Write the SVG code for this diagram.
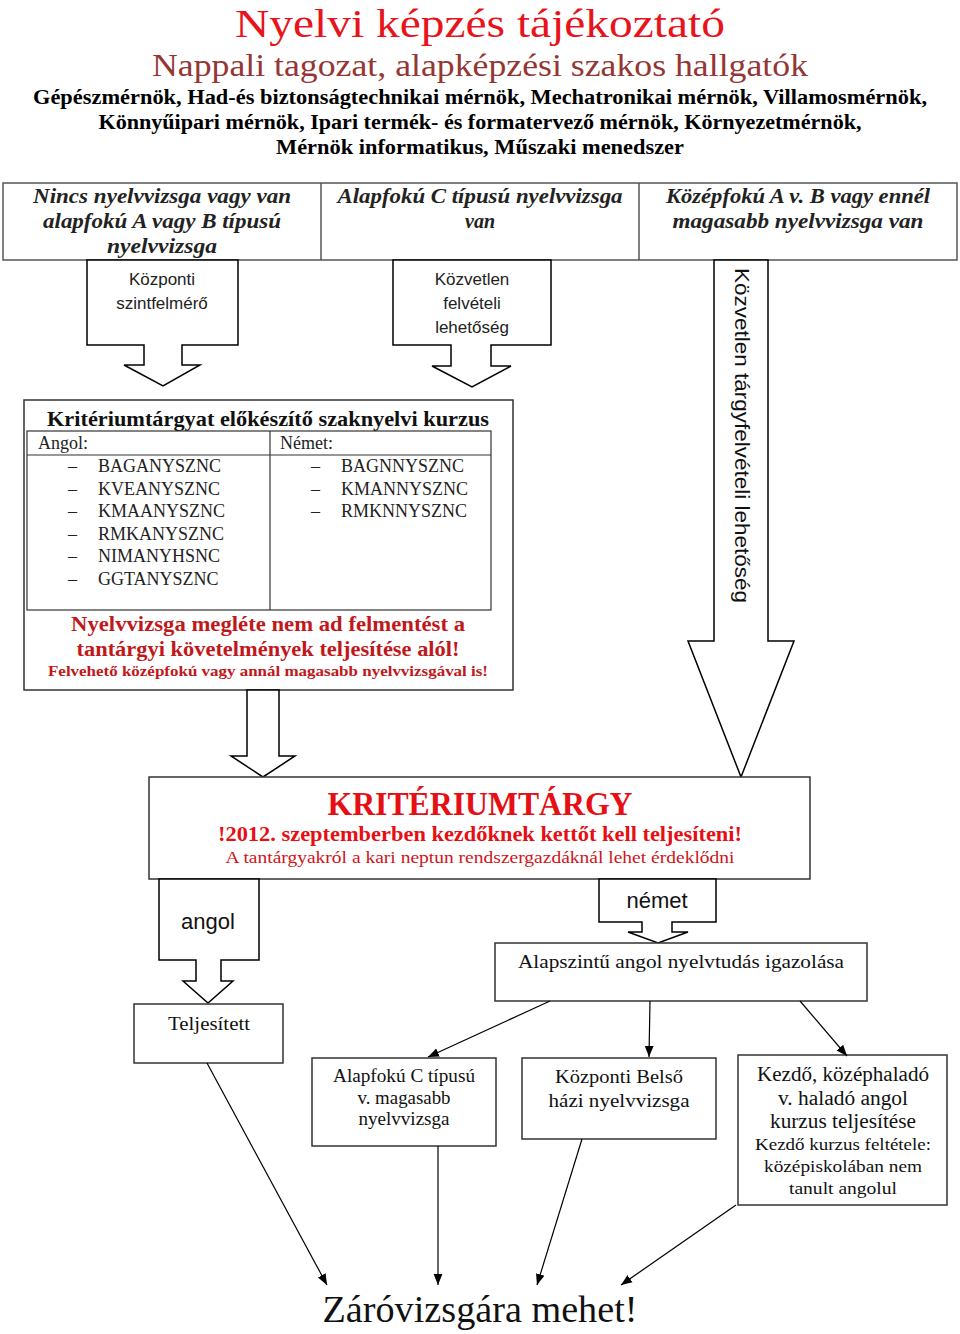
<svg xmlns="http://www.w3.org/2000/svg" width="960" height="1334" viewBox="0 0 960 1334">
<style>
.serif{font-family:"Liberation Serif","DejaVu Serif",serif;}
.sans{font-family:"Liberation Sans","Noto Sans",sans-serif;}
.box{fill:#fff;stroke:#333;stroke-width:1.5;}
.gbox{fill:#fff;stroke:#555;stroke-width:1.5;}
.blk{fill:#fff;stroke:#000;stroke-width:1.5;}
.con{stroke:#000;stroke-width:1.2;fill:none;marker-end:url(#ah);}
.c{text-anchor:middle;}
.top{font-style:italic;font-weight:bold;font-size:20px;fill:#222;}
.lst{font-size:18px;fill:#222;}
.bt{fill:#111;}
</style>
<defs>
<marker id="ah" viewBox="0 0 10 10" refX="10" refY="5" markerWidth="11" markerHeight="11" markerUnits="userSpaceOnUse" orient="auto"><path d="M0,1 L10,5 L0,9 Z" fill="#000"/></marker>
</defs>
<rect width="960" height="1334" fill="#fff"/>

<g id="header">
<text class="serif c" x="480" y="37" font-size="40" fill="#e8141b" textLength="490" lengthAdjust="spacingAndGlyphs">Nyelvi képzés tájékoztató</text>
<text class="serif c" x="480" y="76" font-size="32" fill="#943634" textLength="656" lengthAdjust="spacingAndGlyphs">Nappali tagozat, alapképzési szakos hallgatók</text>
<text class="serif c" x="480" y="104" font-size="20" font-weight="bold" fill="#000" textLength="894" lengthAdjust="spacingAndGlyphs">Gépészmérnök, Had-és biztonságtechnikai mérnök, Mechatronikai mérnök, Villamosmérnök,</text>
<text class="serif c" x="480" y="129" font-size="20" font-weight="bold" fill="#000" textLength="763" lengthAdjust="spacingAndGlyphs">Könnyűipari mérnök, Ipari termék- és formatervező mérnök, Környezetmérnök,</text>
<text class="serif c" x="480" y="154" font-size="20" font-weight="bold" fill="#000" textLength="408" lengthAdjust="spacingAndGlyphs">Mérnök informatikus, Műszaki menedszer</text>
</g>

<g id="toprow">
<rect class="gbox" x="3" y="183" width="954" height="77"/>
<line x1="321" y1="183" x2="321" y2="260" stroke="#555" stroke-width="1.5"/>
<line x1="639" y1="183" x2="639" y2="260" stroke="#555" stroke-width="1.5"/>
<text class="serif c top" x="162" y="203" textLength="258" lengthAdjust="spacingAndGlyphs">Nincs nyelvvizsga vagy van</text>
<text class="serif c top" x="162" y="228" textLength="238" lengthAdjust="spacingAndGlyphs">alapfokú A vagy B típusú</text>
<text class="serif c top" x="162" y="253" textLength="110" lengthAdjust="spacingAndGlyphs">nyelvvizsga</text>
<text class="serif c top" x="480" y="203" textLength="285" lengthAdjust="spacingAndGlyphs">Alapfokú C típusú nyelvvizsga</text>
<text class="serif c top" x="480" y="228">van</text>
<text class="serif c top" x="798" y="203" textLength="264" lengthAdjust="spacingAndGlyphs">Középfokú A v. B vagy ennél</text>
<text class="serif c top" x="798" y="228" textLength="251" lengthAdjust="spacingAndGlyphs">magasabb nyelvvizsga van</text>
</g>

<g id="szintfelmero">
<path class="blk" d="M87,260 H238 V345 H182 V365 H200 L163,386 L124,365 H144 V345 H87 Z"/>
<text class="sans c" x="162" y="285" font-size="17" fill="#222">Központi</text>
<text class="sans c" x="162" y="309" font-size="17" fill="#222">szintfelmérő</text>
</g>

<g id="kozvetlen-felveteli">
<path class="blk" d="M393,260 H551 V345 H491 V366 H511 L472,387 L432,366 H451 V345 H393 Z"/>
<text class="sans c" x="472" y="285" font-size="17" fill="#222">Közvetlen</text>
<text class="sans c" x="472" y="309" font-size="17" fill="#222">felvételi</text>
<text class="sans c" x="472" y="333" font-size="17" fill="#222">lehetőség</text>
</g>

<g id="targyfelveteli">
<path class="blk" d="M714,260 H768 V641 H794 L741,777 L688,641 H714 Z"/>
<text class="sans" transform="translate(735,268) rotate(90)" font-size="21" fill="#111" textLength="335" lengthAdjust="spacingAndGlyphs">Közvetlen tárgyfelvételi lehetőség</text>
</g>

<g id="kurzus">
<rect class="box" x="24" y="400" width="489" height="290"/>
<text class="serif c" x="268" y="426" font-size="21" font-weight="bold" fill="#111" textLength="442" lengthAdjust="spacingAndGlyphs">Kritériumtárgyat előkészítő szaknyelvi kurzus</text>
<rect x="27" y="431" width="464" height="179" fill="none" stroke="#333" stroke-width="1.2"/>
<line x1="27" y1="455" x2="491" y2="455" stroke="#333" stroke-width="1.2"/>
<line x1="270" y1="431" x2="270" y2="610" stroke="#333" stroke-width="1.2"/>
<text class="serif lst" x="38" y="449">Angol:</text>
<text class="serif lst" x="280" y="449">Német:</text>
<g class="serif lst">
<text x="68" y="472">–</text><text x="98" y="472">BAGANYSZNC</text>
<text x="68" y="495">–</text><text x="98" y="495">KVEANYSZNC</text>
<text x="68" y="517">–</text><text x="98" y="517">KMAANYSZNC</text>
<text x="68" y="540">–</text><text x="98" y="540">RMKANYSZNC</text>
<text x="68" y="562">–</text><text x="98" y="562">NIMANYHSNC</text>
<text x="68" y="585">–</text><text x="98" y="585">GGTANYSZNC</text>
<text x="311" y="472">–</text><text x="341" y="472">BAGNNYSZNC</text>
<text x="311" y="495">–</text><text x="341" y="495">KMANNYSZNC</text>
<text x="311" y="517">–</text><text x="341" y="517">RMKNNYSZNC</text>
</g>
<text class="serif c" x="268" y="631" font-size="20" font-weight="bold" fill="#c0181b" textLength="394" lengthAdjust="spacingAndGlyphs">Nyelvvizsga megléte nem ad felmentést a</text>
<text class="serif c" x="268" y="656" font-size="20" font-weight="bold" fill="#c0181b" textLength="383" lengthAdjust="spacingAndGlyphs">tantárgyi követelmények teljesítése alól!</text>
<text class="serif c" x="268" y="676" font-size="15" font-weight="bold" fill="#c0181b" textLength="440" lengthAdjust="spacingAndGlyphs">Felvehető középfokú vagy annál magasabb nyelvvizsgával is!</text>
</g>

<g id="arrow-kurzus">
<path class="blk" d="M247,690 H279 V756 H295 L263,777 L231,756 H247 Z"/>
</g>

<g id="kriteriumtargy">
<rect class="box" x="149" y="777" width="661" height="102"/>
<text class="serif c" x="480" y="815" font-size="34" font-weight="bold" fill="#e60f14" textLength="305" lengthAdjust="spacingAndGlyphs">KRITÉRIUMTÁRGY</text>
<text class="serif c" x="480" y="841" font-size="21" font-weight="bold" fill="#e60f14" textLength="524" lengthAdjust="spacingAndGlyphs">!2012. szeptemberben kezdőknek kettőt kell teljesíteni!</text>
<text class="serif c" x="480" y="863" font-size="17" fill="#d01418" textLength="509" lengthAdjust="spacingAndGlyphs">A tantárgyakról a kari neptun rendszergazdáknál lehet érdeklődni</text>
</g>

<g id="angol">
<path class="blk" d="M159,879 H259 V960 H221 V981 H233 L208,1003 L183,981 H196 V960 H159 Z"/>
<text class="sans c" x="208" y="929" font-size="22" fill="#111">angol</text>
</g>

<g id="nemet">
<path class="blk" d="M599,879 H716 V922 H672 V932 H688 L658,943 L628,932 H642 V922 H599 Z"/>
<text class="sans c" x="657" y="908" font-size="22" fill="#111">német</text>
</g>

<g id="teljesitett">
<rect class="box" x="134" y="1004" width="149" height="59"/>
<text class="serif c bt" x="209" y="1030" font-size="19" textLength="82" lengthAdjust="spacingAndGlyphs">Teljesített</text>
</g>

<g id="alapszintu">
<rect class="box" x="495" y="943" width="372" height="58"/>
<text class="serif c bt" x="681" y="968" font-size="19" textLength="326" lengthAdjust="spacingAndGlyphs">Alapszintű angol nyelvtudás igazolása</text>
</g>

<g id="alapfoku-c">
<rect class="box" x="312" y="1058" width="184" height="88"/>
<text class="serif c bt" x="404" y="1082" font-size="18" textLength="142" lengthAdjust="spacingAndGlyphs">Alapfokú C típusú</text>
<text class="serif c bt" x="404" y="1104" font-size="18" textLength="93" lengthAdjust="spacingAndGlyphs">v. magasabb</text>
<text class="serif c bt" x="404" y="1125" font-size="18" textLength="91" lengthAdjust="spacingAndGlyphs">nyelvvizsga</text>
</g>

<g id="kozponti-belso">
<rect class="box" x="522" y="1058" width="194" height="81"/>
<text class="serif c bt" x="619" y="1083" font-size="19.5" textLength="128" lengthAdjust="spacingAndGlyphs">Központi Belső</text>
<text class="serif c bt" x="619" y="1107" font-size="19.5" textLength="141" lengthAdjust="spacingAndGlyphs">házi nyelvvizsga</text>
</g>

<g id="kezdo">
<rect class="box" x="738" y="1055" width="209" height="150"/>
<text class="serif c bt" x="843" y="1081" font-size="20" textLength="172" lengthAdjust="spacingAndGlyphs">Kezdő, középhaladó</text>
<text class="serif c bt" x="843" y="1105" font-size="20" textLength="130" lengthAdjust="spacingAndGlyphs">v. haladó angol</text>
<text class="serif c bt" x="843" y="1128" font-size="20" textLength="146" lengthAdjust="spacingAndGlyphs">kurzus teljesítése</text>
<text class="serif c bt" x="843" y="1150" font-size="17.5" textLength="176" lengthAdjust="spacingAndGlyphs">Kezdő kurzus feltétele:</text>
<text class="serif c bt" x="843" y="1172" font-size="17.5" textLength="158" lengthAdjust="spacingAndGlyphs">középiskolában nem</text>
<text class="serif c bt" x="843" y="1194" font-size="17.5" textLength="108" lengthAdjust="spacingAndGlyphs">tanult angolul</text>
</g>

<g id="zarovizsga">
<text class="serif c bt" x="480" y="1322" font-size="38" textLength="315" lengthAdjust="spacingAndGlyphs">Záróvizsgára mehet!</text>
</g>

<g id="connectors">
<line class="con" x1="550" y1="1001" x2="428" y2="1057"/>
<line class="con" x1="650" y1="1001" x2="649" y2="1057"/>
<line class="con" x1="800" y1="1001" x2="847" y2="1056"/>
<line class="con" x1="207" y1="1063" x2="327" y2="1285"/>
<line class="con" x1="438" y1="1146" x2="438" y2="1285"/>
<line class="con" x1="582" y1="1139" x2="537" y2="1285"/>
<line class="con" x1="736" y1="1205" x2="621" y2="1285"/>
</g>
</svg>
